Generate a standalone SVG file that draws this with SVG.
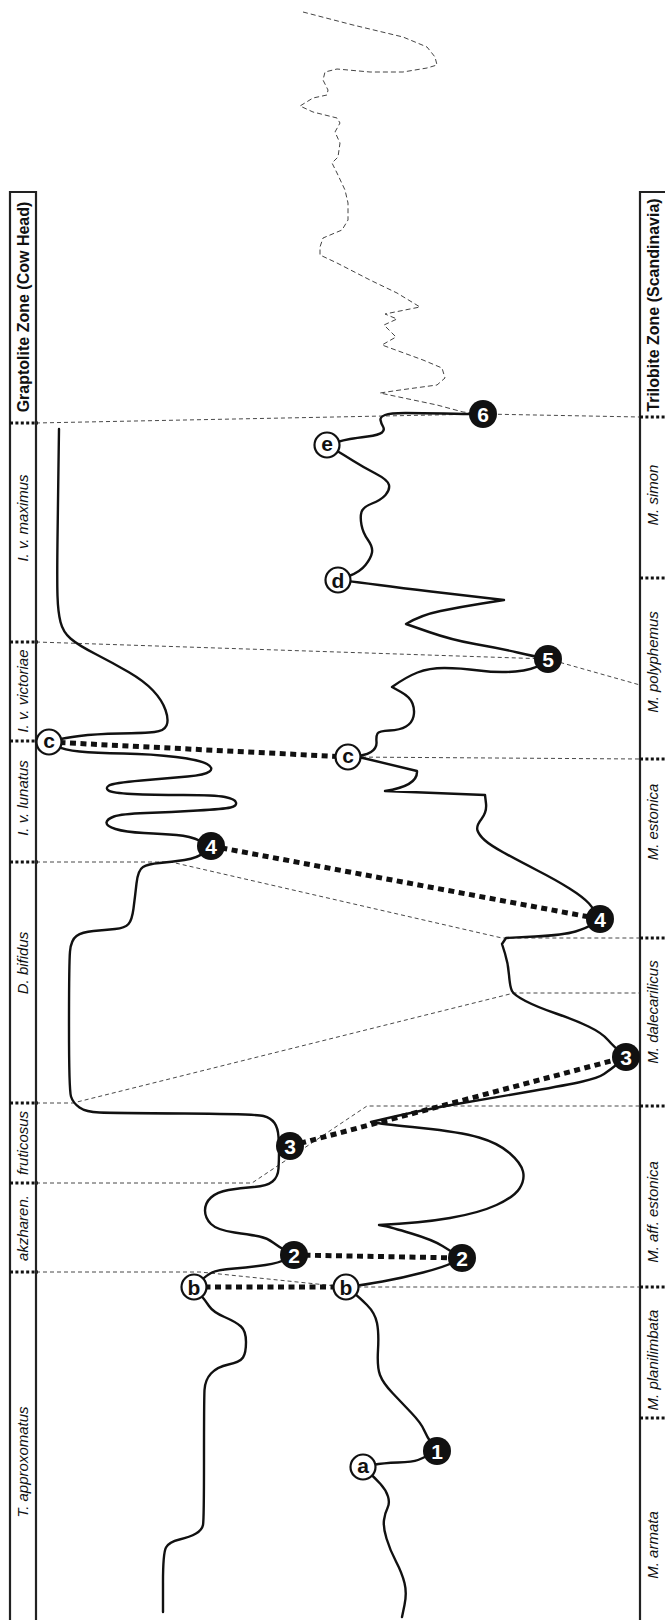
<svg xmlns="http://www.w3.org/2000/svg" width="665" height="1620" viewBox="0 0 665 1620">
<style>
.col{fill:none;stroke:#222;stroke-width:2.2}
.sep{stroke:#111;stroke-width:3;stroke-dasharray:3 2.4;fill:none}
.thin{fill:none;stroke:#333;stroke-width:0.9;stroke-dasharray:4 3}
.top{fill:none;stroke:#444;stroke-width:1;stroke-dasharray:5 3;stroke-linejoin:round}
.dot{fill:none;stroke:#111;stroke-width:5;stroke-dasharray:6 4.5}
.curve{fill:none;stroke:#111;stroke-width:2.4;stroke-linejoin:round;stroke-linecap:round}
.hdr{font-family:"Liberation Sans",Arial,sans-serif;font-weight:bold;font-size:16px;fill:#111;text-anchor:middle}
.lab{font-family:"Liberation Sans",Arial,sans-serif;font-style:italic;font-size:15px;fill:#111;text-anchor:middle}
.wc{fill:#fff;stroke:#111;stroke-width:2.2}
.bc{fill:#111}
.wt{font-family:"Liberation Sans",Arial,sans-serif;font-weight:bold;font-size:21px;fill:#111;text-anchor:middle}
.bt{font-family:"Liberation Sans",Arial,sans-serif;font-weight:bold;font-size:21px;fill:#fff;text-anchor:middle}
</style>

<g id="left-column">
<path class="col" d="M10,1622 V192 H36 V1622"/>
<g class="sep">
<line x1="10" y1="423" x2="38" y2="423"/>
<line x1="10" y1="642" x2="38" y2="642"/>
<line x1="10" y1="741" x2="38" y2="741"/>
<line x1="10" y1="862" x2="38" y2="862"/>
<line x1="10" y1="1103" x2="38" y2="1103"/>
<line x1="10" y1="1183" x2="38" y2="1183"/>
<line x1="10" y1="1272" x2="38" y2="1272"/>
</g>
<text class="hdr" transform="translate(29,307) rotate(-90)">Graptolite Zone (Cow Head)</text>
<text class="lab" transform="translate(28,518) rotate(-90)">I. v. maximus</text>
<text class="lab" transform="translate(28,691) rotate(-90)">I. v. victoriae</text>
<text class="lab" transform="translate(28,798) rotate(-90)">I. v. lunatus</text>
<text class="lab" transform="translate(28,963) rotate(-90)">D. bifidus</text>
<text class="lab" transform="translate(28,1143) rotate(-90)">fruticosus</text>
<text class="lab" transform="translate(28,1228) rotate(-90)">akzharen.</text>
<text class="lab" transform="translate(28,1462) rotate(-90)">T. approxomatus</text>
</g>

<g id="right-column">
<path class="col" d="M640,1622 V192 H668"/>
<g class="sep">
<line x1="640" y1="417" x2="666" y2="417"/>
<line x1="640" y1="578" x2="666" y2="578"/>
<line x1="640" y1="759" x2="666" y2="759"/>
<line x1="640" y1="938" x2="666" y2="938"/>
<line x1="640" y1="1106" x2="666" y2="1106"/>
<line x1="640" y1="1287" x2="666" y2="1287"/>
<line x1="640" y1="1418" x2="666" y2="1418"/>
</g>
<text class="hdr" transform="translate(659,305) rotate(-90)">Trilobite Zone (Scandinavia)</text>
<text class="lab" transform="translate(658,495) rotate(-90)">M. simon</text>
<text class="lab" transform="translate(658,662) rotate(-90)">M. polyphemus</text>
<text class="lab" transform="translate(658,822) rotate(-90)">M. estonica</text>
<text class="lab" transform="translate(658,1012) rotate(-90)">M. dalecarilicus</text>
<text class="lab" transform="translate(658,1212) rotate(-90)">M. aff. estonica</text>
<text class="lab" transform="translate(658,1360) rotate(-90)">M. planilimbata</text>
<text class="lab" transform="translate(658,1545) rotate(-90)">M. armata</text>
</g>

<g id="connectors">
<polyline class="top" points="303,12 353,25 403,37 427,47 435,57 437,65 427,68 403,72 370,72 337,69 325,72 323,80 328,90 327,95 313,98 300,106 313,112 337,118 340,123 335,132 340,143 338,157 332,163 337,173 345,190 348,203 348,220 342,230 323,238 320,247 320,255 337,263 370,280 397,293 420,307 385,314 397,319 384,325 396,337 382,345 423,360 442,368 445,378 437,385 400,390 380,393 437,405 463,412 483,414"/>
<path class="thin" d="M36,423 L483,414 L640,417"/>
<path class="thin" d="M36,642 L548,659 L640,685"/>
<path class="thin" d="M348,757 L640,759"/>
<path class="thin" d="M36,862 L171,862 L502,938 L640,938"/>
<path class="thin" d="M36,1103 L73,1103 L514,993 L640,993"/>
<path class="thin" d="M36,1183 L252,1183 L367,1106 L640,1106"/>
<path class="thin" d="M36,1272 L200,1272 L346,1287 L640,1287"/>
<line class="dot" x1="49" y1="742" x2="348" y2="757"/>
<line class="dot" x1="211" y1="846" x2="600" y2="919"/>
<line class="dot" x1="290" y1="1146" x2="626" y2="1057"/>
<line class="dot" x1="294" y1="1255" x2="462" y2="1258"/>
<line class="dot" x1="194" y1="1287" x2="346" y2="1287"/>
</g>

<g id="curves">
<path id="curve-cow-head" class="curve" d="M59,429 L58.5,464.5 Q58,500 57.5,540 Q57,580 57.5,596 Q58,612 60.5,622 Q63,632 70.5,638.5 Q78,645 95.5,654 Q113,663 128.5,672 Q144,681 153,690.5 Q162,700 165.5,710 Q169,720 166.5,725.5 Q164,731 154.5,732 Q145,733 120,733.5 Q95,734 79.5,736 Q64,738 56.5,740 Q49,742 56.5,746 Q64,750 79.5,751.5 Q95,753 123.5,753.5 Q152,754 176,757 Q200,760 207,764 Q214,768 209.5,771.5 Q205,775 187.5,776.5 Q170,778 141.5,780.5 Q113,783 109,785.5 Q105,788 108.5,790.5 Q112,793 132,794 Q152,795 183.5,795 Q215,795 225,797 Q235,799 236,802.5 Q237,806 230.5,807.5 Q224,809 197.5,810.5 Q171,812 146,813 Q121,814 114,816.5 Q107,819 106.5,822.5 Q106,826 115.5,829 Q125,832 144,833 Q163,834 176.5,835 Q190,836 200.5,841 Q211,846 204.5,852 Q198,858 184.5,860 Q171,862 159.5,863 Q148,864 143,867 Q138,870 136.5,883.5 Q135,897 133.5,908.5 Q132,920 128.5,924 Q125,928 115,929 Q105,930 93.5,931 Q82,932 76.5,936 Q71,940 70,951.5 Q69,963 69,1026.5 Q69,1090 71,1096.5 Q73,1103 79.5,1107.5 Q86,1112 99.5,1112.5 Q113,1113 184.5,1113.5 Q256,1114 263.5,1116 Q271,1118 274.5,1123 Q278,1128 278.5,1137 Q279,1146 279,1153 Q279,1160 278.5,1168.5 Q278,1177 272.5,1181.5 Q267,1186 253.5,1187 Q240,1188 228.5,1190 Q217,1192 211,1197.5 Q205,1203 205,1210.5 Q205,1218 211,1224 Q217,1230 234.5,1232.5 Q252,1235 259.5,1236.5 Q267,1238 273,1242.5 Q279,1247 286.5,1251 Q294,1255 286.5,1259 Q279,1263 265.5,1265 Q252,1267 234.5,1268.5 Q217,1270 212,1272.5 Q207,1275 200.5,1281 Q194,1287 199.5,1293.5 Q205,1300 209,1306 Q213,1312 224.5,1317 Q236,1322 241,1326.5 Q246,1331 246,1342 Q246,1353 243,1357.5 Q240,1362 228.5,1364.5 Q217,1367 211,1373.5 Q205,1380 204.5,1390 Q204,1400 204,1460 Q204,1520 203,1525 Q202,1530 196,1533.5 Q190,1537 179.5,1539.5 Q169,1542 166,1547.5 Q163,1553 163,1582.5 L163,1612"/>
<path id="curve-scandinavia" class="curve" d="M483,414 L475,414 Q467,414 444,413.5 Q421,413 405.5,413 Q390,413 385,415 Q380,417 380.5,420 Q381,423 383,426.5 Q385,430 382,432.5 Q379,435 367.5,436.5 Q356,438 350,439 Q344,440 335.5,442.5 Q327,445 335.5,450 Q344,455 353.5,461 Q363,467 375.5,473.5 Q388,480 389,485 Q390,490 385.5,495 Q381,500 372,503.5 Q363,507 361.5,512 Q360,517 361.5,525 Q363,533 368,540 Q373,547 372,552.5 Q371,558 365.5,565 Q360,572 349,576 Q338,580 347,581 Q356,582 379,585 Q402,588 431,591.5 Q460,595 504,600 L482,603.5 Q460,607 440.5,611 Q421,615 406,624 L429,632 Q452,640 475,644 Q498,648 517.5,652.5 Q537,657 548,659 L540.5,664.5 Q533,670 515.5,671.5 Q498,673 479,670.5 Q460,668 444.5,668 Q429,668 417.5,672.5 Q406,677 392,687 L401,692 Q410,697 412.5,703.5 Q415,710 413.5,716.5 Q412,723 406,726.5 Q400,730 389.5,730.5 Q379,731 377.5,733.5 Q376,736 376.5,742 Q377,748 371,752 Q365,756 348,757 L363,758 L417,771 Q418,786 385,791 L485,795 L486,803.5 Q487,812 481.5,819 Q476,826 477.5,830.5 Q479,835 484.5,840 Q490,845 503.5,852.5 Q517,860 536.5,870 Q556,880 569.5,888.5 Q583,897 589,903.5 Q595,910 600,919 L593.5,923.5 Q587,928 575.5,931.5 Q564,935 535,936.5 L506,938 L502,944 L505,953.5 Q508,963 509,975 Q510,987 512,991 Q514,995 525.5,1001 Q537,1007 556,1013.5 Q575,1020 588.5,1026.5 Q602,1033 608,1040 Q614,1047 626,1057 L618,1063.5 Q610,1070 604,1074 Q598,1078 582.5,1081.5 Q567,1085 532.5,1091 Q498,1097 459.5,1103.5 Q421,1110 371,1122 L377,1123 Q383,1124 421.5,1128 Q460,1132 479,1137.5 Q498,1143 509.5,1153 Q521,1163 523,1171.5 Q525,1180 519.5,1188.5 Q514,1197 496.5,1205 Q479,1213 450,1218 Q421,1223 379,1225 L384.5,1226 Q390,1227 411.5,1233.5 Q433,1240 442.5,1246 Q452,1252 462,1258 L453,1262.5 Q444,1267 423,1272.5 Q402,1278 382.5,1281.5 Q363,1285 354.5,1286 Q346,1287 352.5,1292 Q359,1297 367,1305 Q375,1313 377,1323 Q379,1333 378,1350 Q377,1367 380,1375 Q383,1383 392.5,1393 Q402,1403 411.5,1413 Q421,1423 424,1430 Q427,1437 432,1444 Q437,1451 430,1454.5 Q423,1458 418,1460 Q413,1462 398,1462.5 Q383,1463 373,1465 Q363,1467 369,1472.5 Q375,1478 380.5,1484 Q386,1490 388,1496.5 Q390,1503 387.5,1508 Q385,1513 384,1520 Q383,1527 386.5,1538.5 Q390,1550 396,1561.5 Q402,1573 404.5,1583 Q407,1593 404.5,1605 L402,1617"/>
</g>

<g id="node-c-left"><circle class="wc" cx="49" cy="742" r="12.5"/><text class="wt" x="49" y="748">c</text></g>
<g id="node-c-right"><circle class="wc" cx="348" cy="757" r="12.5"/><text class="wt" x="348" y="763">c</text></g>
<g id="node-b-left"><circle class="wc" cx="194" cy="1287" r="12.5"/><text class="wt" x="194" y="1294.5">b</text></g>
<g id="node-b-right"><circle class="wc" cx="346" cy="1287" r="12.5"/><text class="wt" x="346" y="1294.5">b</text></g>
<g id="node-a"><circle class="wc" cx="363" cy="1467" r="12.5"/><text class="wt" x="363" y="1473">a</text></g>
<g id="node-d"><circle class="wc" cx="338" cy="580" r="12.5"/><text class="wt" x="338" y="587.5">d</text></g>
<g id="node-e"><circle class="wc" cx="327" cy="445" r="12.5"/><text class="wt" x="327" y="451">e</text></g>

<g id="node-1"><circle class="bc" cx="437" cy="1451" r="14"/><text class="bt" x="437" y="1458.5">1</text></g>
<g id="node-2-left"><circle class="bc" cx="294" cy="1255" r="14"/><text class="bt" x="294" y="1262.5">2</text></g>
<g id="node-2-right"><circle class="bc" cx="462" cy="1258" r="14"/><text class="bt" x="462" y="1265.5">2</text></g>
<g id="node-3-left"><circle class="bc" cx="290" cy="1146" r="14"/><text class="bt" x="290" y="1153.5">3</text></g>
<g id="node-3-right"><circle class="bc" cx="626" cy="1057" r="14"/><text class="bt" x="626" y="1064.5">3</text></g>
<g id="node-4-left"><circle class="bc" cx="211" cy="846" r="14"/><text class="bt" x="211" y="853.5">4</text></g>
<g id="node-4-right"><circle class="bc" cx="600" cy="919" r="14"/><text class="bt" x="600" y="926.5">4</text></g>
<g id="node-5"><circle class="bc" cx="548" cy="659" r="14"/><text class="bt" x="548" y="666.5">5</text></g>
<g id="node-6"><circle class="bc" cx="483" cy="414" r="14"/><text class="bt" x="483" y="421.5">6</text></g>
</svg>
